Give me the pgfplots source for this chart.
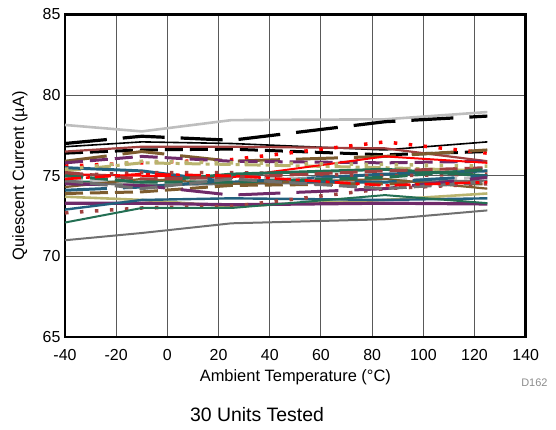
\documentclass[border=0pt]{standalone}
\usepackage{fontspec}
\setmainfont{Liberation Sans}
\usepackage{pgfplots}
\usepackage{pgfplotstable}
\pgfplotsset{compat=1.18}
\definecolor{tired}{HTML}{FF0000}
\definecolor{tidkred}{HTML}{A0403F}
\definecolor{tibrown}{HTML}{7D5C2E}
\definecolor{tikhaki}{HTML}{B9B46F}
\definecolor{tigreen}{HTML}{236F53}
\definecolor{titeal}{HTML}{22607D}
\definecolor{tipurple}{HTML}{6F2A69}
\definecolor{tilgray}{HTML}{BEBEBE}
\definecolor{tidgray}{HTML}{707070}
\pgfplotstableread{
T    u1    u2    u3    u4    u5    u6    u7    u8    u9    u10   u11   u12   u13   u14   u15   u16   u17   u18   u19   u20   u21   u22   u23   u24   u25   u26   u27   u28   u29   u30
-40  78.15 77.00 76.80 76.40 76.50 75.60 75.90 75.80 75.30 75.10 75.50 75.00 74.60 74.90 74.60 74.30 75.20 74.10 73.90 73.70 73.30 72.90 72.70 72.10 71.00 74.50 75.00 75.40 74.70 74.80
-10  77.75 77.45 77.10 76.60 76.80 75.80 76.50 76.20 75.80 75.00 75.30 75.20 74.60 74.40 74.40 74.80 74.80 74.30 74.00 73.50 73.30 73.50 73.00 73.00 71.45 74.40 74.60 75.90 74.20 75.10
25   78.45 77.20 77.00 76.65 76.80 76.00 75.90 75.90 75.70 74.90 74.60 75.20 75.10 74.90 74.50 74.50 74.90 74.70 74.40 73.10 73.20 73.60 73.10 73.00 72.05 73.80 74.60 75.80 74.80 75.00
85   78.50 78.35 76.60 76.30 76.70 77.10 76.20 75.80 75.50 76.20 75.10 75.00 75.40 74.70 74.60 74.80 75.30 74.60 74.50 73.50 73.30 73.50 74.20 73.80 72.30 74.20 74.90 75.70 74.20 74.40
125  78.95 78.70 77.10 76.50 75.90 76.40 76.60 75.90 75.30 75.80 75.30 75.10 75.00 74.90 74.70 74.20 75.50 75.00 74.50 73.90 73.25 73.60 74.50 73.30 72.85 74.90 75.40 75.60 74.60 74.60
}\units
\tikzset{
  ldash/.style={dash pattern=on 42bp off 16bp},
  mdash/.style={dash pattern=on 18bp off 7bp},
  dots/.style={dash pattern=on 3.5bp off 11.5bp},
  dashdot/.style={dash pattern=on 16bp off 5bp on 4bp off 5bp},
}
\begin{document}
\begin{tikzpicture}
\useasboundingbox (-65bp,-93bp) rectangle (491bp,337bp);
\begin{axis}[
  at={(0,0)}, anchor=south west,
  scale only axis, width=460.7bp, height=322.5bp,
  xmin=-40, xmax=140, ymin=65, ymax=85,
  xtick={-40,-20,...,140}, ytick={65,70,...,85},
  grid=major,
  major grid style={black!65, line width=1.1bp},
  axis line style={line width=2.8bp},
  major tick length=0pt,
  tick label style={font=\fontsize{16}{19}\selectfont},
  /pgf/number format/assume math mode=true,
  xticklabel style={yshift=-9bp},
  yticklabel style={xshift=-1bp},
  xlabel={Ambient Temperature (°C)},
  ylabel={Quiescent Current (µA)},
  label style={font=\fontsize{16.5}{19}\selectfont},
  xlabel style={at={(rel axis cs:0.5,0)}, anchor=center, yshift=-40bp},
  ylabel style={at={(rel axis cs:-0.0977,0.5)}, anchor=center},
  every axis plot/.append style={line join=round},
]
\addplot[tilgray, line width=2.6bp] table[x=T,y=u1] {\units};
\addplot[black, line width=3.2bp, ldash] table[x=T,y=u2] {\units};
\addplot[black, line width=1.6bp] table[x=T,y=u3] {\units};
\addplot[black, line width=3bp, mdash] table[x=T,y=u4] {\units};
\addplot[tidkred, line width=2.2bp] table[x=T,y=u5] {\units};
\addplot[tired, line width=3.5bp, dots] table[x=T,y=u6] {\units};
\addplot[tibrown, line width=3bp, ldash] table[x=T,y=u7] {\units};
\addplot[tipurple, line width=3bp, mdash] table[x=T,y=u8] {\units};
\addplot[tikhaki, line width=3bp, dashdot] table[x=T,y=u9] {\units};
\addplot[tired, line width=2bp] table[x=T,y=u10] {\units};
\addplot[titeal, line width=3bp] table[x=T,y=u11] {\units};
\addplot[tidkred, line width=3.5bp, dots] table[x=T,y=u12] {\units};
\addplot[tigreen, line width=3bp] table[x=T,y=u13] {\units};
\addplot[tilgray, line width=3bp, mdash] table[x=T,y=u14] {\units};
\addplot[tidgray, line width=2.2bp] table[x=T,y=u15] {\units};
\addplot[tibrown, line width=2.2bp] table[x=T,y=u16] {\units};
\addplot[tidkred, line width=3bp, mdash] table[x=T,y=u17] {\units};
\addplot[titeal, line width=3bp, ldash] table[x=T,y=u18] {\units};
\addplot[tibrown, line width=3bp, mdash] table[x=T,y=u19] {\units};
\addplot[tikhaki, line width=2.6bp] table[x=T,y=u20] {\units};
\addplot[tipurple, line width=3.2bp] table[x=T,y=u21] {\units};
\addplot[titeal, line width=2.4bp] table[x=T,y=u22] {\units};
\addplot[tidkred, line width=3.5bp, dots] table[x=T,y=u23] {\units};
\addplot[tigreen, line width=2bp] table[x=T,y=u24] {\units};
\addplot[tidgray, line width=2bp] table[x=T,y=u25] {\units};
\addplot[tipurple, line width=3bp, ldash] table[x=T,y=u26] {\units};
\addplot[tigreen, line width=3bp, mdash] table[x=T,y=u27] {\units};
\addplot[tikhaki, line width=3.5bp, dots] table[x=T,y=u28] {\units};
\addplot[tidgray, line width=3bp, mdash] table[x=T,y=u29] {\units};
\addplot[tired, line width=2.6bp, dashdot] table[x=T,y=u30] {\units};
\end{axis}
\node[anchor=east, text=black!45, font=\fontsize{11}{13}\selectfont] at (486bp,-46bp) {D162};
\node[anchor=center, font=\fontsize{19.5}{23}\selectfont] at (192bp,-78bp) {30 Units Tested};
\end{tikzpicture}
\end{document}
